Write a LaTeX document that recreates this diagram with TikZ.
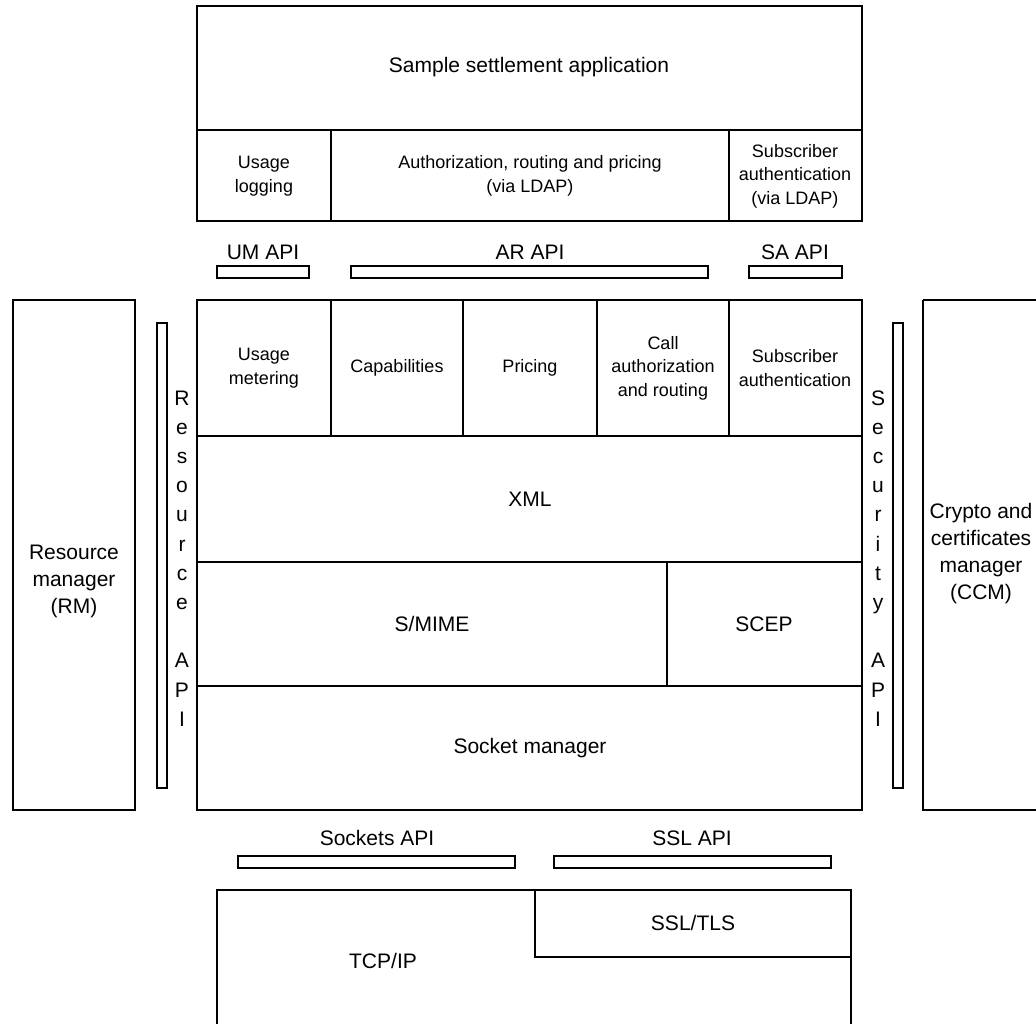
\documentclass[tikz,border=0pt]{standalone}
\usepackage{fontspec}
\setmainfont{Liberation Sans}
\begin{document}
\begin{tikzpicture}[x=1pt,y=-1pt,line width=2pt,
	big/.style={font=\fontsize{21}{27}\selectfont,align=center,inner sep=0pt},
	small/.style={font=\fontsize{18}{23.5}\selectfont,align=center,inner sep=0pt},
	apibar/.style={line width=1.6pt}]
		\useasboundingbox (0,0) rectangle (1036,1023);
		\clip (0,0) rectangle (1036,1023);
		\draw (197,6) rectangle (862,221);
		\draw (197,130) -- (862,130);
		\draw (331,130) -- (331,221);
		\draw (729,130) -- (729,221);
		\node[big] (title) at (529,67) {Sample settlement application};
		\node[small] (ulog) at (264,176) {Usage\\logging};
		\node[small] (arp) at (530,176) {Authorization, routing and pricing\\(via LDAP)};
		\node[small] (sauth) at (795,176) {Subscriber\\authentication\\(via LDAP)};
		\draw[apibar] (217,266) rectangle (309,278);
		\draw[apibar] (351,266) rectangle (708,278);
		\draw[apibar] (749,266) rectangle (842,278);
		\node[big] (umapi) at (263,252) {UM API};
		\node[big] (arapi) at (530,252) {AR API};
		\node[big] (saapi) at (795,252) {SA API};
		\draw (197,300) rectangle (862,810);
		\draw (197,436) -- (862,436);
		\draw (197,562) -- (862,562);
		\draw (197,686) -- (862,686);
		\foreach \cx in {331,463,597,729}
			\draw (\cx,300) -- (\cx,436);
		\draw (667,562) -- (667,686);
		\node[small] (umeter) at (264,368) {Usage\\metering};
		\node[small] (caps) at (397,368) {Capabilities};
		\node[small] (pricing) at (530,368) {Pricing};
		\node[small] (callauth) at (663,368) {Call\\authorization\\and routing};
		\node[small] (subauth) at (795,368) {Subscriber\\authentication};
		\node[big] (xml) at (530,499) {XML};
		\node[big] (smime) at (432,624) {S/MIME};
		\node[big] (scep) at (764,624) {SCEP};
		\node[big] (sockmgr) at (530,748) {Socket manager};
		\draw (13,300) rectangle (135,810);
		\node[big] (rm) at (74,581) {Resource\\manager\\(RM)};
		\draw[apibar] (157,323) rectangle (167,788);
		\foreach \ch/\i in {R/0,e/1,s/2,o/3,u/4,r/5,c/6,e/7,A/9,P/10,I/11}
			\node[big,anchor=base] (rl\i) at (182,405+29.2*\i) {\ch};
		\draw[apibar] (893,323) rectangle (903,788);
		\foreach \ch/\i in {S/0,e/1,c/2,u/3,r/4,i/5,t/6,y/7,A/9,P/10,I/11}
			\node[big,anchor=base] (sl\i) at (878,405+29.2*\i) {\ch};
		\draw (923,300) -- (923,810) -- (1040,810);
		\draw (923,300) -- (1040,300);
		\node[big] (ccm) at (981,554) {Crypto and\\certificates\\manager\\(CCM)};
		\draw[apibar] (238,856) rectangle (515,868);
		\draw[apibar] (554,856) rectangle (831,868);
		\node[big] (sockapi) at (377,838) {Sockets API};
		\node[big] (sslapi) at (692,838) {SSL API};
		\draw (217,1030) -- (217,890) -- (851,890) -- (851,1030);
		\draw (535,890) -- (535,957) -- (851,957);
		\node[big] (ssltls) at (693,923) {SSL/TLS};
		\node[big] (tcpip) at (383,961) {TCP/IP};
	\end{tikzpicture}
\end{document}
